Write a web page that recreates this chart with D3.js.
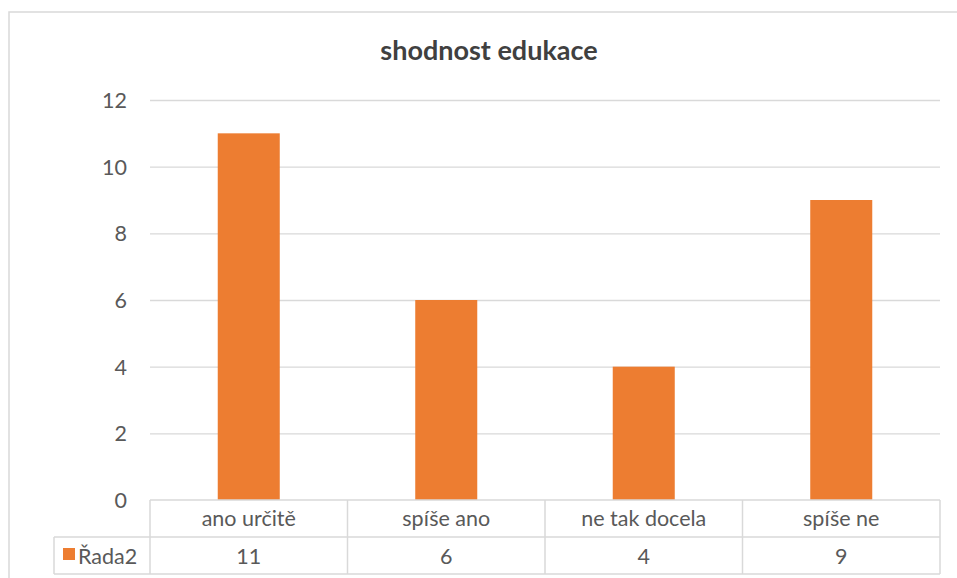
<!DOCTYPE html>
<html>
<head>
<meta charset="utf-8">
<script src="https://cdn.jsdelivr.net/npm/d3@7"></script>
<style>
  html, body { margin: 0; padding: 0; background: #fff; }
  svg { display: block; }
</style>
</head>
<body>
<script>
// Chart data
const categories = ["ano určitě", "spíše ano", "ne tak docela", "spíše ne"];
const seriesName = "Řada2";
const seriesValues = [11, 6, 4, 9];
const yTicks = [0, 2, 4, 6, 8, 10, 12];
const chartTitle = "shodnost edukace";

const W = 957, H = 578;
const FONT = "Lato, 'Open Sans', sans-serif";
const BAR = "#ED7D31";
const GRID = "#d9d9d9";
const TXT = "#595959";
const FS = 21.5;

const svg = d3.select("body").append("svg")
  .attr("width", W).attr("height", H);

// outer chart frame (runs past the right and bottom edge)
svg.append("rect")
  .attr("x", 9).attr("y", 12)
  .attr("width", 1000).attr("height", 700)
  .attr("fill", "#fff").attr("stroke", GRID).attr("stroke-width", 1.5);

const plot = { left: 150, right: 940, top: 100, bottom: 500 };

const x = d3.scaleBand()
  .domain(categories)
  .range([plot.left, plot.right])
  .paddingInner(0.686)
  .paddingOuter(0.343);

const y = d3.scaleLinear()
  .domain([0, 12])
  .range([plot.bottom, plot.top]);

// title
svg.append("text")
  .attr("x", 489).attr("y", 60)
  .attr("text-anchor", "middle")
  .attr("font-family", FONT).attr("font-weight", "bold")
  .attr("font-size", 27).attr("fill", "#404040")
  .text(chartTitle);

// horizontal gridlines
svg.append("g").selectAll("line")
  .data(yTicks.filter(d => d > 0))
  .join("line")
  .attr("x1", plot.left).attr("x2", plot.right)
  .attr("y1", d => y(d) + 0.5).attr("y2", d => y(d) + 0.5)
  .attr("stroke", GRID).attr("stroke-width", 1.3);

// y axis labels
const yAxis = d3.axisLeft(y).tickValues(yTicks).tickSize(0).tickPadding(0);
const gy = svg.append("g").attr("transform", `translate(127,0)`).call(yAxis);
gy.select(".domain").remove();
gy.selectAll("text")
  .attr("font-family", FONT).attr("font-size", FS).attr("fill", TXT)
  .attr("dy", "0.35em");

// bars
svg.append("g").selectAll("rect")
  .data(seriesValues)
  .join("rect")
  .attr("x", (d, i) => x(categories[i]))
  .attr("y", d => y(d))
  .attr("width", x.bandwidth())
  .attr("height", d => y(0) - y(d))
  .attr("fill", BAR);

// data table
const rowTop = plot.bottom, rowMid = 537, rowBot = 574, legLeft = 54;
const tbl = svg.append("g").attr("stroke", GRID).attr("stroke-width", 1.5).attr("fill", "none");
tbl.append("line").attr("x1", plot.left).attr("x2", plot.right).attr("y1", rowTop).attr("y2", rowTop);
tbl.append("line").attr("x1", legLeft).attr("x2", plot.right).attr("y1", rowMid).attr("y2", rowMid);
tbl.append("line").attr("x1", legLeft).attr("x2", plot.right).attr("y1", rowBot).attr("y2", rowBot);
tbl.append("line").attr("x1", legLeft).attr("x2", legLeft).attr("y1", rowMid).attr("y2", rowBot);
const step = x.step();
const bounds = categories.map((c, i) => plot.left + i * step).concat([plot.right]);
tbl.selectAll(".v").data(bounds).join("line")
  .attr("x1", d => d).attr("x2", d => d)
  .attr("y1", rowTop).attr("y2", rowBot);

const centers = categories.map(c => x(c) + x.bandwidth() / 2);

svg.append("g").selectAll("text")
  .data(categories)
  .join("text")
  .attr("x", (d, i) => centers[i]).attr("y", 526)
  .attr("text-anchor", "middle")
  .attr("font-family", FONT).attr("font-size", FS).attr("fill", TXT)
  .text(d => d);

svg.append("g").selectAll("text")
  .data(seriesValues)
  .join("text")
  .attr("x", (d, i) => centers[i]).attr("y", 564)
  .attr("text-anchor", "middle")
  .attr("font-family", FONT).attr("font-size", FS).attr("fill", TXT)
  .text(d => d);

// legend key inside table
svg.append("rect")
  .attr("x", 63).attr("y", 548).attr("width", 12).attr("height", 12)
  .attr("fill", BAR);
svg.append("text")
  .attr("x", 78).attr("y", 564)
  .attr("font-family", FONT).attr("font-size", FS).attr("fill", TXT)
  .text(seriesName);
</script>
</body>
</html>
